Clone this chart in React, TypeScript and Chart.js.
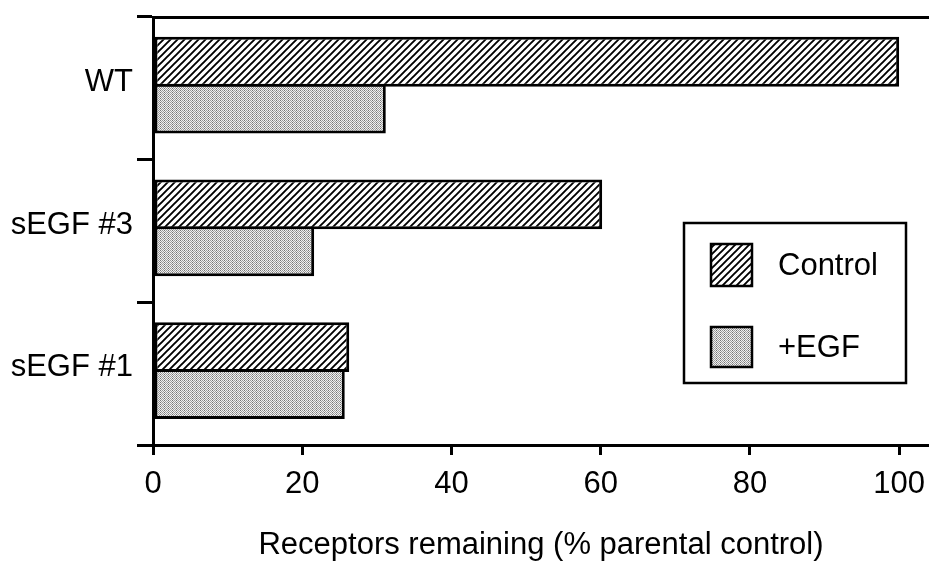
import React, { useEffect, useRef } from "react";
import { Chart, registerables } from "chart.js";

Chart.register(...registerables);

const categories = ["WT", "sEGF #3", "sEGF #1"];
const seriesLabels = ["Control", "+EGF"];
const controlValues = [100, 60.2, 26.3];
const egfValues = [31.2, 21.6, 25.7];
const xTickValues = [0, 20, 40, 60, 80, 100];
const xAxisMax = 104;
const xAxisTitle = "Receptors remaining (% parental control)";

const FONT = "'Liberation Sans', Arial, Helvetica, sans-serif";
const BAR_SHIFT = 0.022; // bars sit slightly above the centre of each band

function makeHatch(): CanvasPattern | string {
  const c = document.createElement("canvas");
  const s = 7;
  c.width = s;
  c.height = s;
  const ctx = c.getContext("2d");
  if (!ctx) return "#fff";
  ctx.fillStyle = "#fff";
  ctx.fillRect(0, 0, s, s);
  ctx.strokeStyle = "#000";
  ctx.lineWidth = 1.9;
  ctx.beginPath();
  ctx.moveTo(-1, s + 1);
  ctx.lineTo(s + 1, -1);
  ctx.moveTo(-2, 2);
  ctx.lineTo(2, -2);
  ctx.moveTo(s - 2, s + 2);
  ctx.lineTo(s + 2, s - 2);
  ctx.stroke();
  return ctx.createPattern(c, "repeat") as CanvasPattern;
}

function makeStipple(): CanvasPattern | string {
  const c = document.createElement("canvas");
  const s = 4;
  c.width = s;
  c.height = s;
  const ctx = c.getContext("2d");
  if (!ctx) return "#bbb";
  const img = ctx.createImageData(s, s);
  for (let y = 0; y < s; y++) {
    for (let x = 0; x < s; x++) {
      const i = (y * s + x) * 4;
      const dark = (x + y) % 2 === 0;
      const v = dark ? ((x + 2 * y) % 4 === 0 ? 115 : 155) : 240;
      img.data[i] = v;
      img.data[i + 1] = v;
      img.data[i + 2] = v;
      img.data[i + 3] = 255;
    }
  }
  ctx.putImageData(img, 0, 0);
  return ctx.createPattern(c, "repeat") as CanvasPattern;
}

const legendPlugin = {
  id: "boxLegend",
  afterDraw(chart: any) {
    const ctx = chart.ctx as CanvasRenderingContext2D;
    const box = { left: 684, top: 223, right: 906, bottom: 383 };
    ctx.save();
    ctx.fillStyle = "#fff";
    ctx.fillRect(box.left, box.top, box.right - box.left, box.bottom - box.top);
    ctx.strokeStyle = "#000";
    ctx.lineWidth = 2.5;
    ctx.strokeRect(box.left, box.top, box.right - box.left, box.bottom - box.top);
    const rows = [
      { y: 244, h: 42, ty: 266 },
      { y: 327, h: 40, ty: 348 },
    ];
    chart.data.datasets.forEach((ds: any, i: number) => {
      const r = rows[i];
      if (!r) return;
      ctx.fillStyle = ds.backgroundColor;
      ctx.fillRect(711, r.y, 41, r.h);
      ctx.lineWidth = 2.5;
      ctx.strokeStyle = "#000";
      ctx.strokeRect(711, r.y, 41, r.h);
      ctx.fillStyle = "#000";
      ctx.font = `31px ${FONT}`;
      ctx.textBaseline = "middle";
      ctx.textAlign = "left";
      ctx.fillText(ds.label, 778, r.ty);
    });
    ctx.restore();
  },
};

export default function App() {
  const ref = useRef<HTMLCanvasElement | null>(null);

  useEffect(() => {
    if (!ref.current) return;
    const hatch = makeHatch();
    const stipple = makeStipple();
    const toPoints = (vals: number[]) => vals.map((v, i) => ({ x: v, y: i }));
    const barOpts = {
      borderColor: "#000",
      borderWidth: 3,
      borderSkipped: false,
      categoryPercentage: 0.657,
      barPercentage: 1.064,
      yAxisID: "yb",
    };
    const chart = new Chart(ref.current, {
      type: "bar",
      data: {
        labels: categories,
        datasets: [
          {
            label: seriesLabels[0],
            data: toPoints(controlValues) as any,
            backgroundColor: hatch as any,
            ...barOpts,
          } as any,
          {
            label: seriesLabels[1],
            data: toPoints(egfValues) as any,
            backgroundColor: stipple as any,
            ...barOpts,
          } as any,
        ],
      },
      options: {
        indexAxis: "y",
        responsive: false,
        animation: false,
        layout: { padding: 0 },
        plugins: {
          legend: { display: false },
          tooltip: { enabled: false },
        },
        scales: {
          y: {
            type: "category",
            position: "left",
            offset: true,
            grid: {
              display: true,
              drawOnChartArea: false,
              drawTicks: true,
              tickLength: 16,
              lineWidth: 3,
              color: "#000",
              offset: true,
            },
            border: { display: true, color: "#000", width: 3 },
            ticks: {
              color: "#000",
              font: { family: FONT, size: 31 },
              padding: 4,
              labelOffset: -6,
            },
            afterFit: (s: any) => {
              s.width = 153;
              s.paddingTop = 0;
              s.paddingBottom = 0;
            },
          },
          yb: {
            type: "linear",
            display: false,
            position: "left",
            reverse: true,
            offset: false,
            grid: { offset: false },
            min: -0.5 + BAR_SHIFT,
            max: categories.length - 0.5 + BAR_SHIFT,
            afterBuildTicks: (s: any) => {
              s.ticks = categories.map((_, i) => ({ value: i }));
            },
          },
          x: {
            type: "linear",
            position: "bottom",
            min: 0,
            max: xAxisMax,
            afterBuildTicks: (s: any) => {
              s.ticks = xTickValues.map((v) => ({ value: v }));
            },
            grid: {
              display: true,
              drawOnChartArea: false,
              tickLength: 10,
              lineWidth: 3,
              color: "#000",
            },
            border: { display: true, color: "#000", width: 3 },
            ticks: {
              color: "#000",
              font: { family: FONT, size: 31 },
              padding: 11,
              maxRotation: 0,
              autoSkip: false,
            },
            title: {
              display: true,
              text: xAxisTitle,
              color: "#000",
              font: { family: FONT, size: 31 },
              padding: { top: 0, bottom: 1 },
            },
            afterFit: (s: any) => {
              s.height = 120;
              s.paddingLeft = 0;
              s.paddingRight = 0;
            },
          },
          x2: {
            type: "linear",
            position: "top",
            min: 0,
            max: xAxisMax,
            grid: { display: false },
            border: { display: true, color: "#000", width: 3 },
            ticks: { display: false },
            afterFit: (s: any) => {
              s.height = 17;
              s.paddingLeft = 0;
              s.paddingRight = 0;
            },
          },
        },
      },
      plugins: [legendPlugin],
    });
    return () => chart.destroy();
  }, []);

  return (
    <div style={{ position: "absolute", left: 0, top: 0, width: 929, height: 565, background: "#fff" }}>
      <canvas ref={ref} width={929} height={565} style={{ display: "block" }} />
    </div>
  );
}
